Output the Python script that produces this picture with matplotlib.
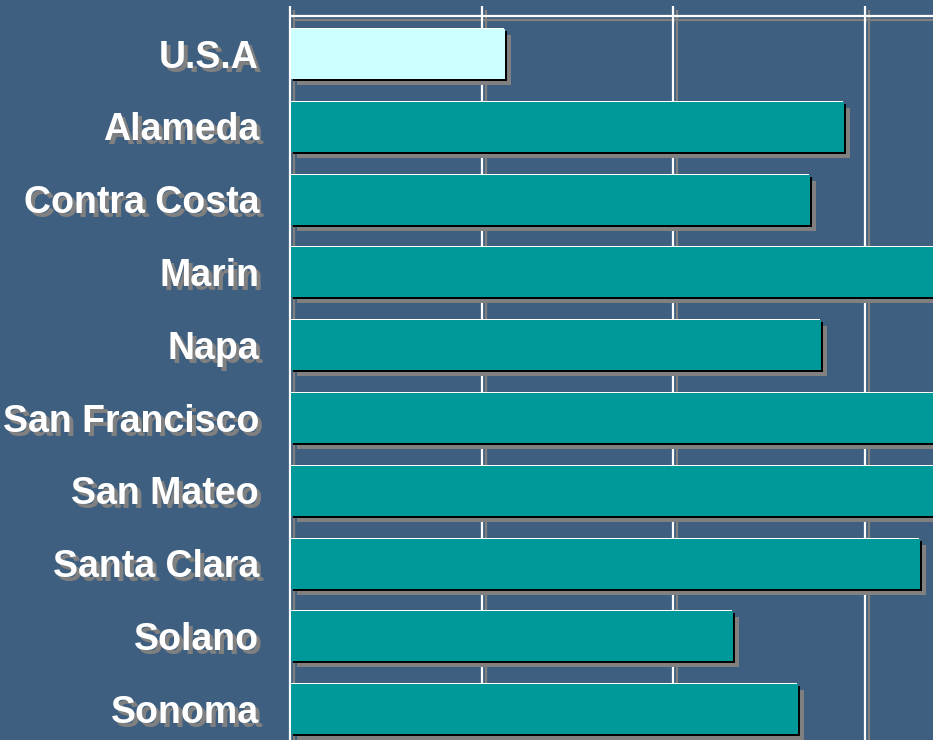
import matplotlib
matplotlib.use('Agg')
import matplotlib.pyplot as plt
from matplotlib.transforms import ScaledTranslation
import numpy as np

categories = ["U.S.A", "Alameda", "Contra Costa", "Marin", "Napa",
              "San Francisco", "San Mateo", "Santa Clara", "Solano", "Sonoma"]
values = [11.15, 28.85, 27.05, 38.0, 27.65, 40.0, 39.0, 32.8, 23.05, 26.45]
grid_values = [0, 10, 20, 30]

BG = '#3e5f7f'
TEAL = '#009999'
USA = '#ccffff'
SHADOW = '#808080'

W, H = 933, 740
fig = plt.figure(figsize=(W / 100, H / 100), dpi=100, facecolor=BG)
ax = fig.add_axes([290 / W, 0, (W - 290) / W, (H - 16) / H])
ax.set_facecolor(BG)
XMAX = 33.54
YTOP, YBOT = -0.508, 9.437
ax.set_xlim(0, XMAX)
ax.set_ylim(YBOT, YTOP)
ax.axis('off')


def off(dx, dy):
    return ax.transData + ScaledTranslation(dx / 100, -dy / 100, fig.dpi_scale_trans)


# grid lines with shadows
ax.vlines(grid_values, YTOP - 0.14, YBOT, colors=SHADOW, lw=1.6,
          transform=off(4, 4), clip_on=False, zorder=1)
ax.hlines([YTOP], 0, XMAX, colors=SHADOW, lw=1.6,
          transform=off(4, 4), clip_on=False, zorder=1)
ax.vlines(grid_values, YTOP - 0.14, YBOT, colors='white', lw=1.6,
          clip_on=False, zorder=2)
ax.hlines([YTOP], 0, XMAX, colors='white', lw=1.6, clip_on=False, zorder=2)

y = np.arange(len(categories))
colors = [USA] + [TEAL] * (len(categories) - 1)
h = 0.687
ax.barh(y, values, height=h, color=SHADOW, transform=off(7, 7), zorder=3)
ax.barh(y, values, height=h, color='black', transform=off(3, 3), zorder=4)
ax.barh(y, values, height=h, color='white', zorder=5)
ax.barh(y, values, height=h, color=colors, transform=off(1, 1), zorder=6)

font = dict(family='Liberation Sans', weight='bold', size=27)
for i, cat in enumerate(categories):
    ax.text(0, i + 0.2, cat, transform=off(-27, 4), ha='right', va='baseline',
            color=SHADOW, clip_on=False, zorder=7, **font)
    ax.text(0, i + 0.2, cat, transform=off(-31, 0), ha='right', va='baseline',
            color='white', clip_on=False, zorder=8, **font)

fig.savefig('out.png', dpi=100, facecolor=BG)
